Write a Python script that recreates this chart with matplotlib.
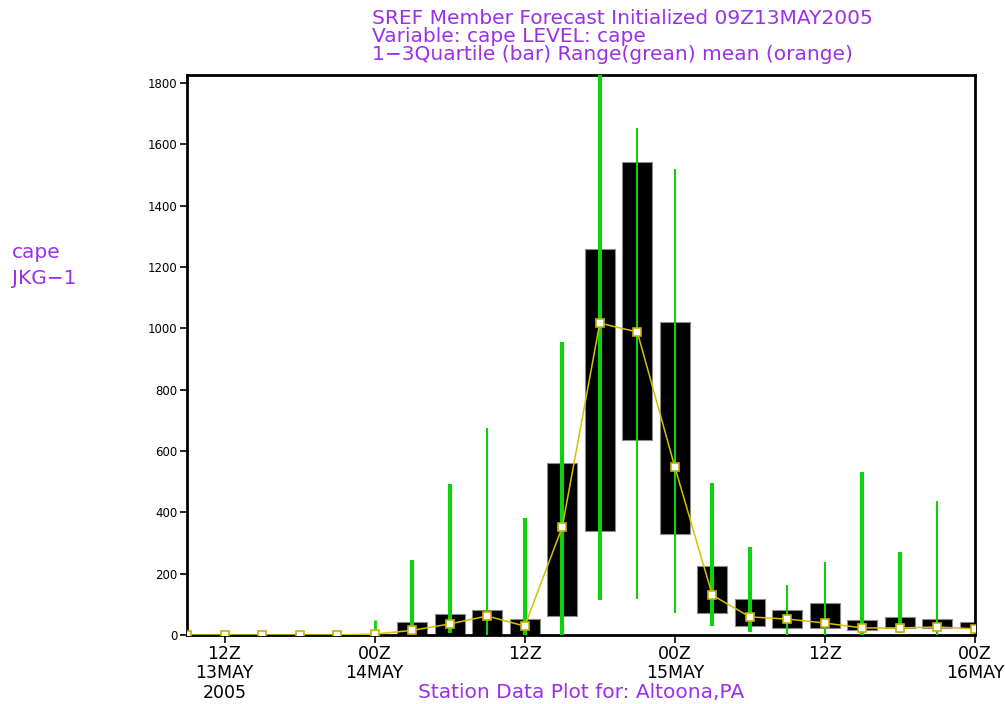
import matplotlib
matplotlib.use("Agg")
import matplotlib.pyplot as plt
import numpy as np

# hours since 09Z 13MAY2005, 3-hourly
hours = [0, 3, 6, 9, 12, 15, 18, 21, 24, 27, 30, 33, 36, 39, 42, 45, 48, 51, 54, 57, 60, 63]
q1 = [0, 0, 0, 0, 0, 0, 0, 0, 0, 0, 62, 339, 636, 329, 72, 29, 23, 23, 16, 23, 23, 23]
q3 = [0, 0, 0, 0, 0, 0, 42, 68, 82, 52, 561, 1259, 1542, 1021, 225, 117, 82, 104, 49, 59, 52, 42]
rmin = [0, 0, 0, 0, 0, 0, 0, 5, 0, 0, 0, 114, 117, 72, 29, 10, 0, 0, 0, 5, 0, 0]
rmax = [0, 0, 0, 0, 0, 50, 245, 492, 675, 382, 955, 1900, 1653, 1520, 496, 287, 163, 238, 532, 271, 437, 0]
mean = [0, 0, 0, 0, 0, 3, 15, 36, 62, 29, 352, 1017, 988, 548, 130, 59, 52, 39, 23, 23, 26, 20]
range_lw = [2, 2, 2, 2, 2, 2, 3, 3, 1.5, 3, 3, 3, 1.5, 1.5, 3, 3, 1.5, 1.5, 3, 3, 1.5, 2]

tick_pos = [3, 15, 27, 39, 51, 63]
tick_labels = ["12Z\n13MAY\n2005", "00Z\n14MAY", "12Z", "00Z\n15MAY", "12Z", "00Z\n16MAY"]
yticks = [0, 200, 400, 600, 800, 1000, 1200, 1400, 1600, 1800]

purple = "#9b30e8"
green = "#10d010"

fig = plt.figure(figsize=(10.05, 7.04), dpi=100)
ax = fig.add_axes([187/1005, 1-635/704, (975-187)/1005, (635-75)/704])

ax.bar(hours, np.array(q3) - np.array(q1), bottom=q1, width=2.4,
       color="black", edgecolor="#8a8a8a", linewidth=0.8, zorder=2)
for h, lo, hi, lw in zip(hours, rmin, rmax, range_lw):
    if hi > lo:
        ax.vlines(h, lo, hi, colors=green, linewidth=lw, zorder=3)
ax.plot(hours, mean, color="#d8c000", linewidth=1.1, zorder=4)
ax.plot(hours, mean, linestyle="none", marker="s", markersize=6,
        markerfacecolor="white", markeredgecolor="#c8b000", markeredgewidth=1.2, zorder=5)

ax.set_xlim(0, 63)
ax.set_ylim(0, 1826)
ax.set_yticks(yticks)
ax.set_yticklabels([str(v) for v in yticks], fontsize=8.5)
ax.set_xticks(tick_pos)
ax.set_xticklabels(tick_labels, fontsize=12.5, linespacing=1.1)
ax.tick_params(axis="y", direction="out", length=5, width=1.2, pad=2)
ax.tick_params(axis="x", direction="out", length=6, width=1.2, pad=1)
for s in ax.spines.values():
    s.set_linewidth(2)

tfs = 14.5
fig.text(372/1005, 1-18/704, "SREF Member Forecast Initialized 09Z13MAY2005",
         color=purple, fontsize=tfs, va="center", ha="left")
fig.text(372/1005, 1-36/704, "Variable: cape LEVEL: cape",
         color=purple, fontsize=tfs, va="center", ha="left")
fig.text(372/1005, 1-54/704, "1\u22123Quartile (bar) Range(grean) mean (orange)",
         color=purple, fontsize=tfs, va="center", ha="left")
fig.text(12/1005, 1-253/704, "cape", color=purple, fontsize=tfs, va="center", ha="left")
fig.text(12/1005, 1-279/704, "JKG\u22121", color=purple, fontsize=tfs, va="center", ha="left")
fig.text(581/1005, 1-693/704, "Station Data Plot for: Altoona,PA",
         color=purple, fontsize=tfs, va="center", ha="center")

fig.savefig("out.png", dpi=100)
